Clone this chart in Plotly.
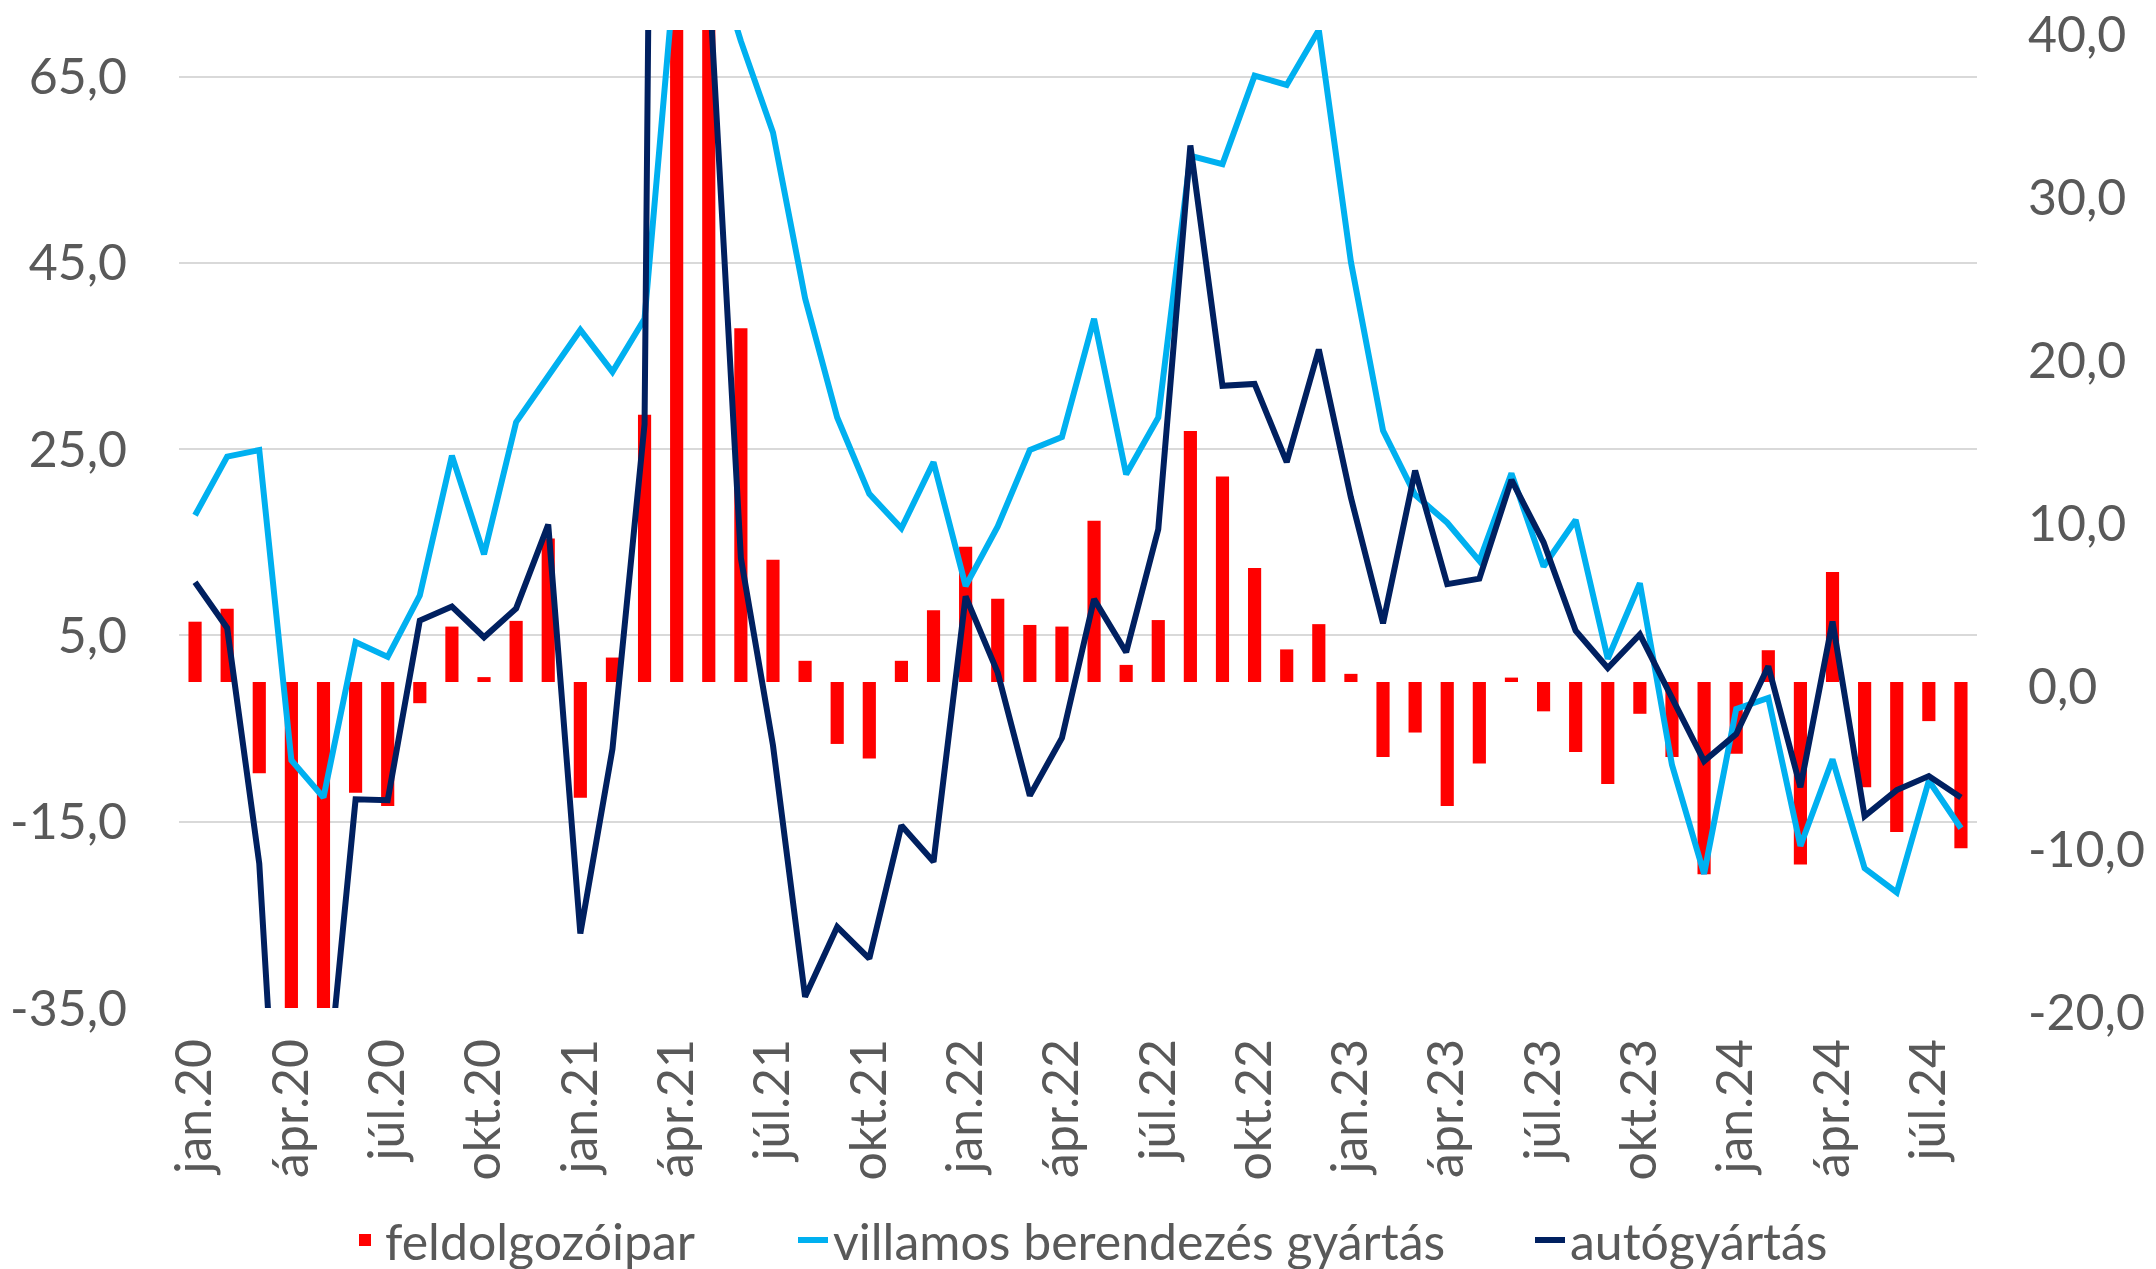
import plotly.graph_objects as go

months = [
    "jan.20", "febr.20", "márc.20", "ápr.20", "máj.20", "jún.20", "júl.20", "aug.20", "szept.20", "okt.20", "nov.20", "dec.20",
    "jan.21", "febr.21", "márc.21", "ápr.21", "máj.21", "jún.21", "júl.21", "aug.21", "szept.21", "okt.21", "nov.21", "dec.21",
    "jan.22", "febr.22", "márc.22", "ápr.22", "máj.22", "jún.22", "júl.22", "aug.22", "szept.22", "okt.22", "nov.22", "dec.22",
    "jan.23", "febr.23", "márc.23", "ápr.23", "máj.23", "jún.23", "júl.23", "aug.23", "szept.23", "okt.23", "nov.23", "dec.23",
    "jan.24", "febr.24", "márc.24", "ápr.24", "máj.24", "jún.24", "júl.24", "aug.24",
]

# feldolgozóipar (right axis, bars)
feldolgozoipar = [
    3.7, 4.5, -5.6, -36.5, -29.5, -6.8, -7.6, -1.3, 3.4, 0.3, 3.75, 8.8,
    -7.1, 1.5, 16.4, 52.0, 43.0, 21.7, 7.5, 1.3, -3.8, -4.7, 1.3, 4.4,
    8.3, 5.1, 3.5, 3.4, 9.9, 1.05, 3.8, 15.4, 12.6, 7.0, 2.0, 3.55,
    0.5, -4.6, -3.1, -7.6, -5.0, 0.27, -1.8, -4.3, -6.25, -1.95, -4.6, -11.8,
    -4.4, 1.95, -11.2, 6.75, -6.45, -9.2, -2.4, -10.2,
]

# villamos berendezés gyártás (left axis)
villamos = [
    17.9, 24.2, 24.9, -8.4, -12.4, 4.3, 2.7, 9.3, 24.3, 13.7, 27.9, 32.8,
    37.8, 33.3, 39.0, 78.5, 80.0, 68.8, 59.0, 41.2, 28.4, 20.2, 16.5, 23.6,
    10.3, 16.7, 24.9, 26.3, 39.0, 22.3, 28.4, 56.5, 55.6, 65.1, 64.1, 70.0,
    45.1, 27.0, 20.1, 17.1, 13.0, 22.4, 12.4, 17.4, 2.5, 10.6, -8.9, -20.6,
    -2.9, -1.7, -17.6, -8.3, -20.0, -22.6, -10.6, -15.7,
]

# autógyártás (left axis)
autogyartas = [
    10.7, 5.8, -19.5, -77.0, -48.0, -12.6, -12.7, 6.6, 8.1, 4.8, 7.9, 16.9,
    -27.0, -7.2, 27.7, 400.0, 76.0, 13.3, -6.8, -33.8, -26.3, -29.7, -15.4, -19.3,
    9.2, 1.0, -12.2, -6.0, 8.9, 3.2, 16.4, 57.6, 31.8, 32.0, 23.6, 35.7,
    19.8, 6.3, 22.7, 10.5, 11.1, 21.7, 15.0, 5.5, 1.5, 5.1, -1.7, -8.5,
    -5.6, 1.7, -11.3, 6.5, -14.4, -11.6, -10.1, -12.4,
]

left_ticks = [-35, -15, 5, 25, 45, 65]
left_range = [-35, 70]
right_ticks = [-20, -10, 0, 10, 20, 30, 40]
right_range = [-20, 40]


def hu(v):
    return f"{v:.1f}".replace(".", ",")


FONT = "Lato"
TXT = "#595959"
GRID = "#d9d9d9"
FS = 50

# page body margin is removed below, so figure pixels = window pixels
W, H = 2156, 1269
ML, MT = 179, 30
MR = W - 1977
MB = H - 1008
PW = W - ML - MR
PH = H - MT - MB


def px_x(x):
    return (x - ML) / PW


def px_y(y):
    return (H - MB - y) / PH


fig = go.Figure()
fig.add_trace(go.Bar(
    x=months, y=feldolgozoipar, name="feldolgozóipar",
    marker=dict(color="#FF0000", line=dict(width=0)),
    xaxis="x", yaxis="y", legend="legend",
))
fig.add_trace(go.Scatter(
    x=months, y=villamos, name="villamos berendezés gyártás", mode="lines",
    line=dict(color="#00B0F0", width=6), xaxis="x", yaxis="y2", legend="legend2",
))
fig.add_trace(go.Scatter(
    x=months, y=autogyartas, name="autógyártás", mode="lines",
    line=dict(color="#002060", width=6), xaxis="x", yaxis="y2", legend="legend3",
))

n = len(months)
leg_common = dict(orientation="h", yanchor="middle", y=px_y(1240), xanchor="left",
                  font=dict(family=FONT, size=FS, color=TXT), bgcolor="rgba(0,0,0,0)")

fig.update_layout(
    width=W, height=H,
    margin=dict(l=ML, r=MR, t=MT, b=MB, autoexpand=False),
    paper_bgcolor="white", plot_bgcolor="white",
    separators=", ",
    bargap=0.59,
    font=dict(family=FONT, size=FS, color=TXT),
    showlegend=True,
    legend=dict(x=px_x(345), **leg_common),
    legend2=dict(x=px_x(793), **leg_common),
    legend3=dict(x=px_x(1530), **leg_common),
    xaxis=dict(
        type="category", categoryorder="array", categoryarray=months,
        range=[-0.5, n - 0.5], automargin=False,
        tickmode="array", tickvals=months[::3], tickangle=-90,
        showgrid=False, showline=False, zeroline=False, ticks="",
        ticklabelstandoff=20,
        tickfont=dict(family=FONT, size=FS, color=TXT),
    ),
    xaxis2=dict(
        overlaying="x", anchor="free", position=1/3, side="bottom",
        range=[-0.5, n - 0.5], automargin=False,
        tickmode="array", tickvals=[k - 0.5 for k in range(0, n, 3)],
        showticklabels=False, ticks="outside", ticklen=14, tickwidth=2, tickcolor=GRID,
        showline=True, linecolor=GRID, linewidth=2,
        showgrid=False, zeroline=False, layer="below traces",
    ),
    yaxis=dict(
        side="right", range=right_range, automargin=False,
        tickmode="array", tickvals=right_ticks, ticktext=[hu(v) for v in right_ticks],
        showgrid=False, zeroline=False, showline=False,
        ticklabelstandoff=50, ticklabeloverflow="allow", ticklabelshift=4,
        tickfont=dict(family=FONT, size=FS, color=TXT),
    ),
    yaxis2=dict(
        overlaying="y", side="left", range=left_range, automargin=False,
        tickmode="array", tickvals=left_ticks, ticktext=[hu(v) for v in left_ticks],
        showgrid=True, gridcolor=GRID, gridwidth=2,
        zeroline=False, showline=False,
        ticklabelstandoff=51, ticklabeloverflow="allow",
        tickfont=dict(family=FONT, size=FS, color=TXT),
    ),
)

fig.write_html(
    "out.html",
    config={"displayModeBar": False},
    post_script="document.body.style.margin='0px'; document.body.style.overflow='hidden';",
)
